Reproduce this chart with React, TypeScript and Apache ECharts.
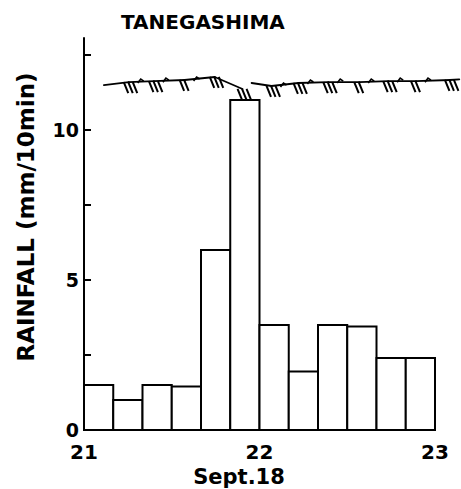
import React, { useEffect, useRef } from "react";
import * as echarts from "echarts";

// 10-minute rainfall bins starting at 21:00 (minutes after 21:00)
const binStartMin = [0, 10, 20, 30, 40, 50, 60, 70, 80, 90, 100, 110];
const rainfall = [1.5, 1.0, 1.5, 1.45, 6.0, 11.0, 3.5, 1.95, 3.5, 3.45, 2.4, 2.4];

const xTickLabels = ["21", "22", "23"];
const yLabelValues = [0, 5, 10];

// wind barbs drawn along the top (time in minutes, height in mm, feather count)
const barbTime = [15.3, 23.9, 34.4, 44.7, 54.2, 64.1, 73.3, 83.5, 94.1, 104.0, 113.5, 125.1];
const barbLevel = [11.6, 11.63, 11.67, 11.77, 11.37, 11.47, 11.57, 11.6, 11.6, 11.63, 11.63, 11.67];
const barbFeathers = [3, 3, 2, 3, 3, 3, 3, 3, 2, 3, 2, 3];
const barbHook = [1, 1, 1, 0, 0, 1, 1, 1, 1, 1, 1, 0];
const shaftStart1 = [6.8, 11.5];
const shaftStart2 = [57.3, 11.57];
const shaftEnd2 = [128.3, 11.69];

export default function App() {
  const ref = useRef<HTMLDivElement>(null);
  useEffect(() => {
    if (!ref.current) return;
    const chart = echarts.init(ref.current, undefined, { renderer: "svg" });
    const font = "DejaVu Sans";
    const pts1 = [shaftStart1, ...barbTime.slice(0, 5).map((t, i) => [t, barbLevel[i]])];
    const pts2 = [shaftStart2, ...barbTime.slice(5).map((t, i) => [t, barbLevel[i + 5]]), shaftEnd2];
    const segs: number[][] = [];
    [pts1, pts2].forEach((pts) => {
      for (let i = 1; i < pts.length; i++) segs.push([pts[i - 1][0], pts[i - 1][1], pts[i][0], pts[i][1]]);
    });
    chart.setOption({
      animation: false,
      textStyle: { fontFamily: font, color: "#000" },
      title: {
        text: "TANEGASHIMA",
        left: 116,
        top: 7,
        textStyle: { fontFamily: font, fontSize: 20, fontWeight: "bold", color: "#000" },
      },
      grid: { left: 84, right: 26, top: 38, bottom: 59 },
      xAxis: {
        type: "value",
        min: 0,
        max: 120,
        interval: 60,
        axisLine: { show: true, lineStyle: { color: "#000", width: 2 } },
        axisTick: { show: false },
        splitLine: { show: false },
        axisLabel: {
          margin: 14,
          fontSize: 20,
          lineHeight: 16,
          fontWeight: "bold",
          color: "#000",
          fontFamily: font,
          formatter: (v: number) => xTickLabels[Math.round(v / 60)] ?? "",
        },
      },
      yAxis: {
        type: "value",
        min: 0,
        max: 13.07,
        interval: 2.5,
        axisLine: { show: true, lineStyle: { color: "#000", width: 2 } },
        axisTick: { show: true, inside: true, length: 7, lineStyle: { color: "#000", width: 2 } },
        splitLine: { show: false },
        axisLabel: {
          margin: 5,
          fontSize: 19,
          lineHeight: 15,
          fontWeight: "bold",
          color: "#000",
          fontFamily: font,
          showMaxLabel: false,
          formatter: (v: number) => (yLabelValues.indexOf(v) >= 0 ? String(v) : ""),
        },
      },
      graphic: [
        {
          type: "text",
          x: 26,
          y: 217,
          rotation: Math.PI / 2,
          style: {
            text: "RAINFALL (mm/10min)",
            fontFamily: font,
            fontSize: 23,
            fontWeight: "bold",
            fill: "#000",
            align: "center",
            verticalAlign: "middle",
          },
        },
        {
          type: "text",
          x: 239,
          y: 477,
          style: {
            text: "Sept.18",
            fontFamily: font,
            fontSize: 21,
            fontWeight: "bold",
            fill: "#000",
            align: "center",
            verticalAlign: "middle",
          },
        },
      ],
      series: [
        {
          type: "custom",
          data: binStartMin.map((s, i) => [s, rainfall[i]]),
          encode: { x: 0, y: 1 },
          renderItem: (_p: any, api: any) => {
            const s = api.value(0);
            const v = api.value(1);
            const p0 = api.coord([s, 0]);
            const p1 = api.coord([s + 10, v]);
            return {
              type: "rect",
              shape: { x: p0[0], y: p1[1], width: p1[0] - p0[0], height: p0[1] - p1[1] },
              style: { fill: "#fff", stroke: "#000", lineWidth: 2 },
            };
          },
          z: 1,
        },
        {
          type: "custom",
          clip: false,
          data: segs,
          encode: { x: [0, 2], y: [1, 3] },
          renderItem: (_p: any, api: any) => {
            const a = api.coord([api.value(0), api.value(1)]);
            const b = api.coord([api.value(2), api.value(3)]);
            return {
              type: "line",
              shape: { x1: a[0], y1: a[1], x2: b[0], y2: b[1] },
              style: { stroke: "#000", lineWidth: 1.8, lineCap: "round" },
            };
          },
          z: 3,
        },
        {
          type: "custom",
          clip: false,
          data: barbTime.map((t, i) => [t, barbLevel[i], barbFeathers[i], barbHook[i]]),
          encode: { x: 0, y: 1 },
          renderItem: (_p: any, api: any) => {
            const p = api.coord([api.value(0), api.value(1)]);
            const n = api.value(2);
            const hook = api.value(3);
            const children: any[] = [];
            for (let k = 0; k < n; k++) {
              const ox = -5 + k * 4.5;
              children.push({
                type: "line",
                shape: { x1: p[0] + ox, y1: p[1], x2: p[0] + ox + 4.5, y2: p[1] + 11 },
                style: { stroke: "#000", lineWidth: 2 },
              });
            }
            if (hook) {
              children.push({
                type: "polyline",
                shape: { points: [[p[0] + 9, p[1] + 1], [p[0] + 12, p[1] - 3], [p[0] + 15, p[1] - 1]] },
                style: { stroke: "#000", lineWidth: 1.6, fill: "none" },
              });
            }
            return { type: "group", children };
          },
          z: 4,
        },
      ],
    });
    return () => chart.dispose();
  }, []);
  return <div ref={ref} style={{ width: 461, height: 489, position: "absolute", left: 0, top: 0 }} />;
}
